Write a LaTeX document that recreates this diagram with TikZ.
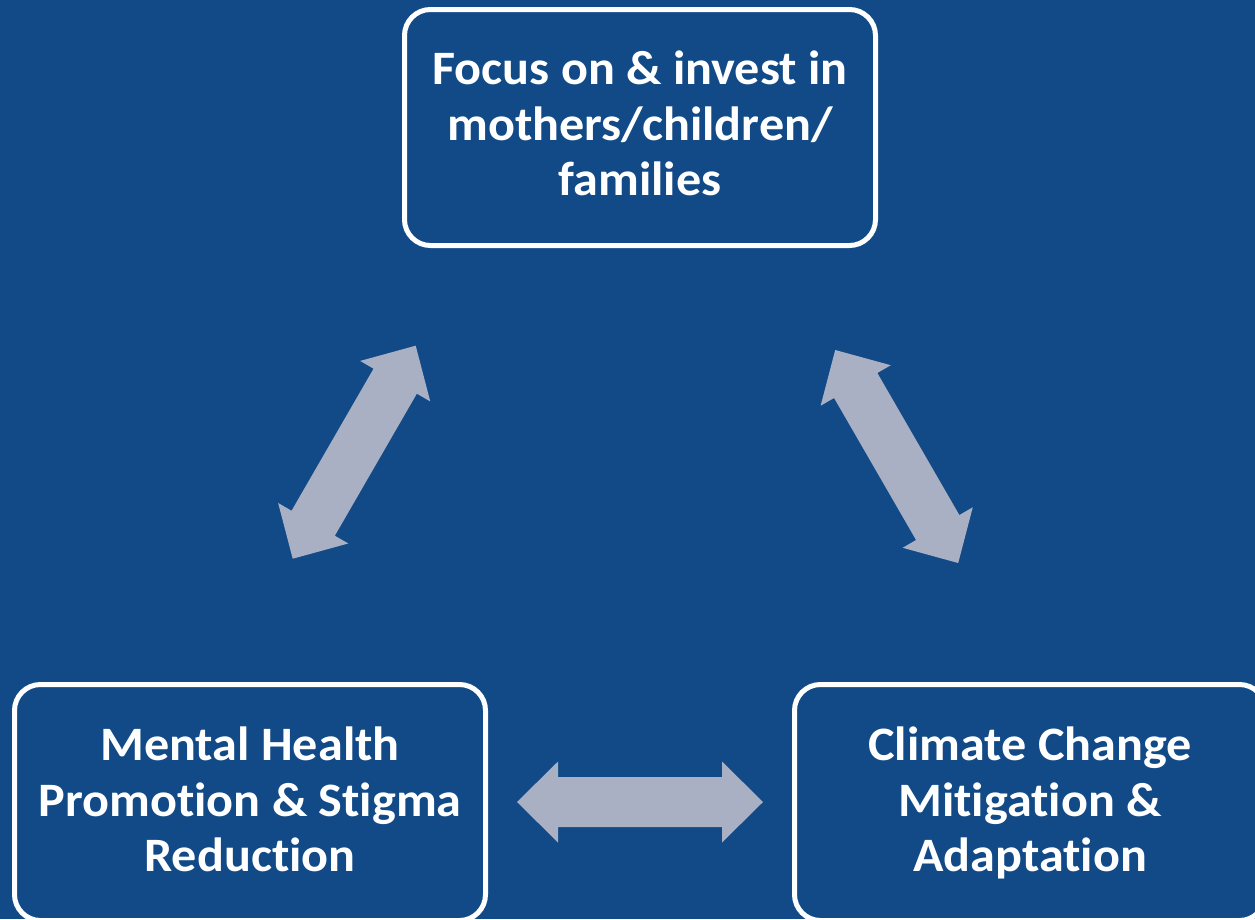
\documentclass[tikz,border=0pt]{standalone}
\usepackage{fontspec}
\setmainfont{Carlito}[Ligatures=NoCommon, FakeStretch=1.045]
\definecolor{bg}{RGB}{17,74,135}
\definecolor{arr}{RGB}{169,176,196}
\begin{document}
\begin{tikzpicture}[x=1pt,y=-1pt,
  box/.style={draw=white, line width=5pt, rounded corners=26pt, minimum width=471pt, minimum height=236pt, inner sep=0pt},
  lbl/.style={text=white, font=\bfseries\fontsize{48}{55.5}\selectfont, align=center, inner sep=0pt},
  blockarrow/.style={fill=arr}]
\fill[bg] (0,0) rectangle (1255,919);
\useasboundingbox (0,0) rectangle (1255,919);
\node[box] (top) at (640,127.5) {};
\node[box] (ml) at (250,802.5) {};
\node[box] (cc) at (1030,802.5) {};
\node[lbl] (toplbl) at ([yshift=-1.4pt]top.center) {\strut Focus on \& invest in\\\strut mothers/children/\\\strut families};
\node[lbl] (mllbl) at ([yshift=-2.5pt]ml.center) {\strut Mental Health\\\strut Promotion \& Stigma\\\strut Reduction};
\node[lbl] (cclbl) at ([yshift=-2.5pt]cc.center) {\strut Climate Change\\\strut Mitigation \&\\\strut Adaptation};
\coordinate (a1) at (354.2,452.2);
\coordinate (a2) at (896.7,456.5);
\coordinate (a3) at (640,802);
\foreach \c/\r in {a1/60, a2/-60, a3/0}{
  \fill[blockarrow, shift={(\c)}, rotate=\r]
    (-123,0) -- (-82,40.5) -- (-82,25) -- (82,25) -- (82,40.5) -- (123,0)
    -- (82,-40.5) -- (82,-25) -- (-82,-25) -- (-82,-40.5) -- cycle;
}
\end{tikzpicture}
\end{document}
